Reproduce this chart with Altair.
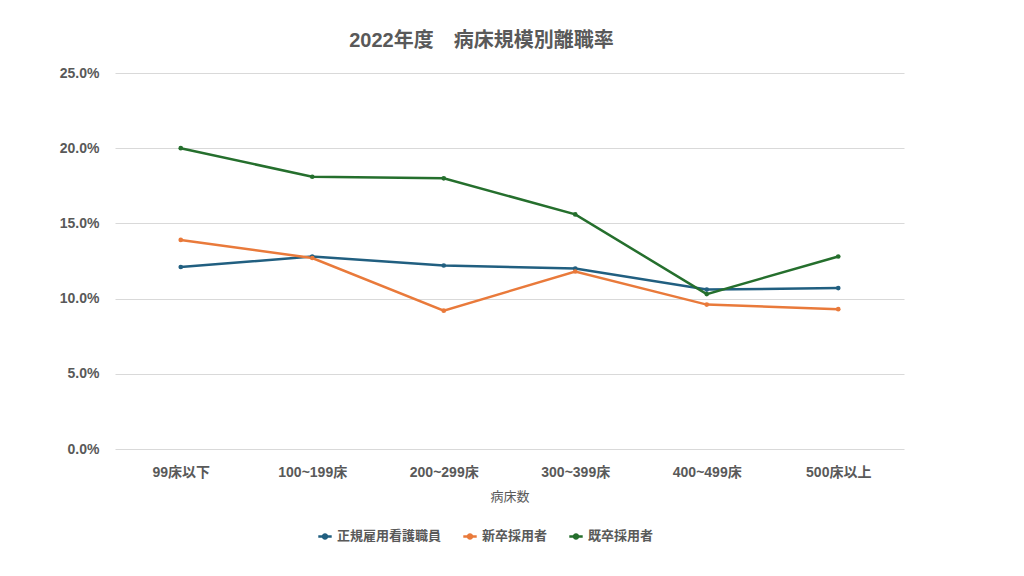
import altair as alt
import pandas as pd

categories = ["99床以下", "100~199床", "200~299床", "300~399床", "400~499床", "500床以上"]
series_names = ["正規雇用看護職員", "新卒採用者", "既卒採用者"]
regular = [12.1, 12.8, 12.2, 12.0, 10.6, 10.7]
new_grad = [13.9, 12.7, 9.2, 11.8, 9.6, 9.3]
experienced = [20.0, 18.1, 18.0, 15.6, 10.3, 12.8]
colors = ["#215f80", "#e97a3b", "#256f2d"]

rows = []
for name, vals in zip(series_names, [regular, new_grad, experienced]):
    for c, v in zip(categories, vals):
        rows.append({"病床規模": c, "系列": name, "離職率": v})
df = pd.DataFrame(rows)

FONT = "Liberation Sans, Noto Sans CJK JP, sans-serif"

chart = alt.Chart(df).mark_line(
    strokeWidth=2.5,
    point=alt.OverlayMarkDef(size=22, filled=True),
).encode(
    x=alt.X("病床規模:N", sort=categories,
            scale=alt.Scale(paddingOuter=0.5),
            axis=alt.Axis(title="病床数", labelAngle=0, labelPadding=16,
                          labelFontSize=14, labelFontWeight="bold", labelColor="#595959",
                          titleFontSize=13, titleFontWeight="normal", titleColor="#595959",
                          titlePadding=11, ticks=False, domain=False, grid=False)),
    y=alt.Y("離職率:Q", scale=alt.Scale(domain=[0, 25], nice=False),
            axis=alt.Axis(title=None, values=[0, 5, 10, 15, 20, 25],
                          labelExpr="format(datum.value, '.1f') + '%'",
                          labelPadding=16, labelFontSize=14, labelFontWeight="bold",
                          labelColor="#595959", ticks=False, domain=False,
                          gridColor="#d9d9d9", gridWidth=1)),
    color=alt.Color("系列:N", sort=series_names,
                    scale=alt.Scale(domain=series_names, range=colors),
                    legend=alt.Legend(
                        title=None, orient="none", direction="horizontal",
                        legendX=202, legendY=455,
                        symbolType="M-1,0H1M-0.3,0a0.3,0.3 0 1,0 0.6,0a0.3,0.3 0 1,0 -0.6,0",
                        symbolSize=180, symbolStrokeWidth=2.5,
                        labelFontSize=13, labelFontWeight="bold", labelColor="#595959",
                        columnPadding=16, labelOffset=4)),
).properties(
    width=789, height=376,
    autosize=alt.AutoSizeParams(type="none"),
    padding={"left": 107, "top": 65, "right": 112, "bottom": 110},
    title=alt.TitleParams("2022年度　病床規模別離職率", fontSize=20, fontWeight="bold",
                          color="#595959", anchor="middle", dx=-28, offset=15),
).configure(font=FONT).configure_view(stroke=None)

chart.save("out.html", embed_options={"renderer": "svg", "actions": False})
